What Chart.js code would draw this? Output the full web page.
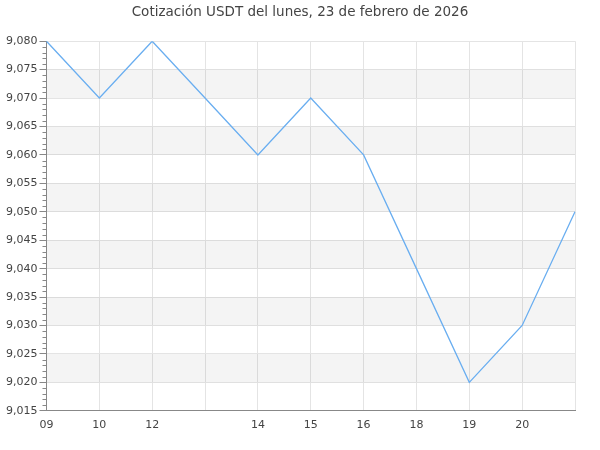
<!DOCTYPE html>
<html>
<head>
<meta charset="utf-8">
<script src="https://cdn.jsdelivr.net/npm/chart.js@4/dist/chart.umd.min.js"></script>
<style>
  html, body { margin: 0; padding: 0; background: #fff; }
  #wrap { width: 600px; height: 450px; }
</style>
</head>
<body>
<div id="wrap"><canvas id="rateChart"></canvas></div>
<script>
const hours = ['09', '10', '12', '', '14', '15', '16', '18', '19', '20', ''];
const prices = [9.080, 9.070, 9.080, 9.070, 9.060, 9.070, 9.060, 9.040, 9.020, 9.030, 9.050];
const yMin = 9.015;
const yMax = 9.080;
const yStep = 0.005;

const fmt = v => v.toFixed(3).replace('.', ',');

// grey stripes every other y interval + minor ticks on the y axis
const stripes = {
    id: 'stripes',
    afterLayout(chart) {
        // center the title on the whole canvas, not the padded area
        if (chart.titleBlock) {
            chart.titleBlock.left = 0;
            chart.titleBlock.right = chart.width;
            chart.titleBlock.width = chart.width;
        }
    },
    beforeDatasetsDraw(chart) {
        const { ctx, chartArea, scales } = chart;
        const y = scales.y;
        ctx.save();
        ctx.fillStyle = 'rgba(0,0,0,0.045)';
        for (let k = 1; yMax - (k + 1) * yStep >= yMin - 1e-9; k += 2) {
            const top = y.getPixelForValue(yMax - k * yStep);
            const bot = y.getPixelForValue(yMax - (k + 1) * yStep);
            ctx.fillRect(chartArea.left, top, chartArea.right - chartArea.left, bot - top);
        }
        ctx.strokeStyle = '#888';
        ctx.lineWidth = 1;
        for (let i = 0; i <= Math.round((yMax - yMin) / 0.001); i++) {
            if (i % 5 === 0) continue;
            const py = Math.round(y.getPixelForValue(yMin + i * 0.001)) + 0.5;
            ctx.beginPath();
            ctx.moveTo(chartArea.left - 4, py);
            ctx.lineTo(chartArea.left, py);
            ctx.stroke();
        }
        ctx.restore();
    }
};

new Chart(document.getElementById('rateChart').getContext('2d'), {
    type: 'line',
    data: {
        labels: hours,
        datasets: [{
            data: prices,
            borderColor: '#6aaef0',
            borderWidth: 1.3,
            pointRadius: 0,
            tension: 0,
            fill: false
        }]
    },
    options: {
        responsive: true,
        maintainAspectRatio: false,
        animation: false,
        layout: { padding: { left: 4, right: 25, top: 0, bottom: 10 } },
        plugins: {
            legend: { display: false },
            tooltip: { enabled: false },
            title: {
                display: true,
                text: 'Cotización USDT del lunes, 23 de febrero de 2026',
                color: '#444',
                font: { family: 'DejaVu Sans', size: 13.5, weight: 'normal' },
                padding: { top: 4, bottom: 21 }
            }
        },
        scales: {
            x: {
                offset: false,
                grid: { color: '#e4e4e4', drawTicks: false },
                border: { color: '#888' },
                ticks: {
                    autoSkip: false,
                    maxRotation: 0,
                    color: '#444',
                    padding: 8,
                    font: { family: 'DejaVu Sans', size: 11 }
                }
            },
            y: {
                min: yMin,
                max: yMax,
                grid: { color: '#e4e4e4', tickColor: '#888', tickLength: 7 },
                border: { color: '#888' },
                ticks: {
                    stepSize: yStep,
                    color: '#444',
                    padding: 2,
                    font: { family: 'DejaVu Sans', size: 11 },
                    callback: v => fmt(v)
                }
            }
        }
    },
    plugins: [stripes]
});
</script>
</body>
</html>
